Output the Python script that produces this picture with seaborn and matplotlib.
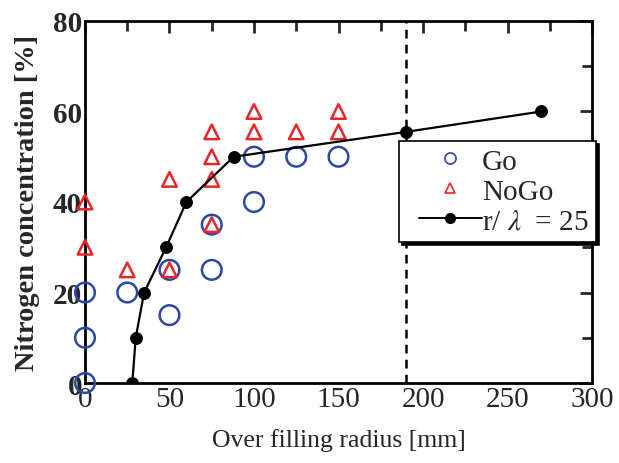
import matplotlib
matplotlib.use("Agg")
import matplotlib.pyplot as plt
import seaborn as sns
import pandas as pd
from matplotlib.ticker import MultipleLocator
from matplotlib.lines import Line2D
from matplotlib.legend_handler import HandlerLine2D

go_x = [0, 0, 0, 25, 50, 50, 75, 75, 100, 100, 125, 150]
go_y = [0, 10, 20, 20, 25, 15, 35, 25, 50, 40, 50, 50]
nogo_x = [0, 0, 25, 50, 50, 75, 75, 75, 75, 100, 100, 125, 150, 150]
nogo_y = [40, 30, 25, 45, 25, 55.5, 50, 45, 35, 60, 55.5, 55.5, 60, 55.5]
line_x = [28, 30, 35, 48, 60, 88, 190, 270]
line_y = [0, 10, 20, 30, 40, 50, 55.5, 60]
vline_x = 190
labels = ["Go", "NoGo", r"r/ $\lambda$  = 25"]

sns.set_style("white")
plt.rcParams['font.family'] = ['Liberation Serif', 'DejaVu Serif']
plt.rcParams['mathtext.fontset'] = 'stix'

fig = plt.figure(figsize=(6.19, 4.64), dpi=100)
ax = fig.add_axes([0.1373, 0.1724, 0.8191, 0.7802])

go = pd.DataFrame({"x": go_x, "y": go_y})
nogo = pd.DataFrame({"x": nogo_x, "y": nogo_y})
ln = pd.DataFrame({"x": line_x, "y": line_y})

BLUE = "#2c48a6"
RED = "#e8262a"

ax.axvline(vline_x, color="black", lw=1.8, ls=(0, (3.5, 2.5)), zorder=1)
sns.lineplot(data=ln, x="x", y="y", ax=ax, color="black", lw=1.6, marker="o",
             markersize=8.5, markeredgecolor="black", markerfacecolor="black",
             zorder=4, sort=False, legend=False)
sns.scatterplot(data=go, x="x", y="y", ax=ax, marker="o", s=200,
                facecolors="none", edgecolors=BLUE, linewidths=1.8,
                zorder=3, clip_on=False, legend=False)
sns.scatterplot(data=nogo, x="x", y="y", ax=ax, marker="^", s=110,
                facecolors="none", edgecolors=RED, linewidths=1.8,
                zorder=3, clip_on=False, legend=False)

ax.set_xlim(0, 300)
ax.set_ylim(0, 80)
ax.xaxis.set_major_locator(MultipleLocator(50))
ax.xaxis.set_minor_locator(MultipleLocator(25))
ax.yaxis.set_major_locator(MultipleLocator(20))
ax.yaxis.set_minor_locator(MultipleLocator(10))
ax.tick_params(which="both", direction="in", top=True, right=True, width=2)
ax.tick_params(which="major", length=8.5, pad=3)
ax.tick_params(which="minor", length=7)
ax.tick_params(axis="x", labelsize=21, pad=2)
ax.tick_params(axis="y", labelsize=21, pad=2)
for t in ax.get_yticklabels():
    t.set_fontweight("bold")
for s in ax.spines.values():
    s.set_linewidth(2)
    s.set_color("black")
ax.set_xlabel("Over filling radius [mm]", fontsize=18.5, labelpad=12)
ax.set_ylabel("Nitrogen concentration [%]", fontsize=20.5, fontweight="bold", labelpad=9)

handles = [
    Line2D([], [], ls="none", marker="o", markersize=8, markerfacecolor="none",
           markeredgecolor=BLUE, markeredgewidth=1.2),
    Line2D([], [], ls="none", marker="^", markersize=7, markerfacecolor="none",
           markeredgecolor=RED, markeredgewidth=1.2),
    Line2D([], [], color="black", lw=1.4, marker="o", markersize=7,
           markerfacecolor="black", markeredgecolor="black"),
]
hmap = {h: HandlerLine2D(xpad=0.42) for h in handles}
leg = ax.legend(handles, labels, handler_map=hmap,
                loc="upper left", bbox_to_anchor=(399/619, 1-142/464),
                bbox_transform=fig.transFigure, fontsize=21, frameon=True,
                fancybox=False, shadow={"color": "black", "alpha": 1},
                edgecolor="black", handlelength=2.6, handletextpad=0.0,
                borderpad=0.25, borderaxespad=0, labelspacing=0.12)
leg.get_frame().set_linewidth(1.2)
leg.set_zorder(6)

fig.savefig("out.png", dpi=100)
